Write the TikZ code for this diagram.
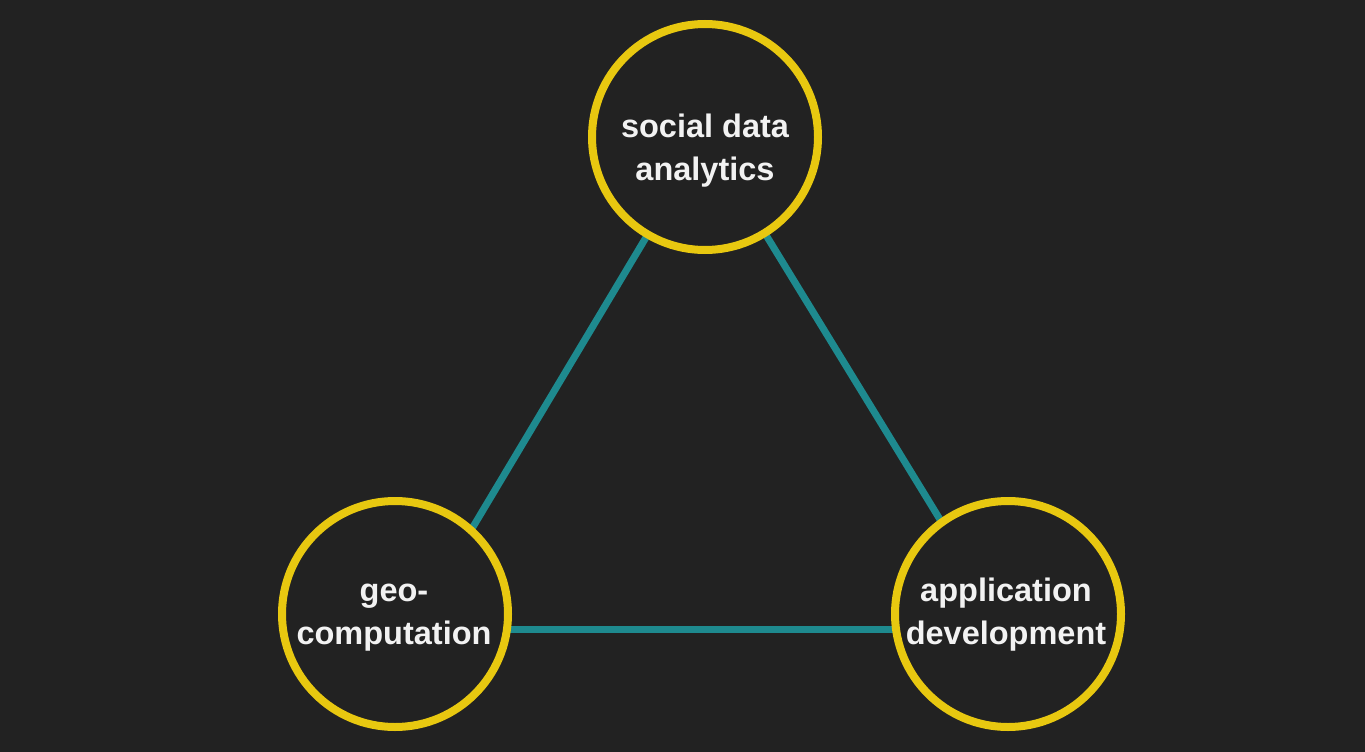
\documentclass[tikz,border=0pt]{standalone}
\usepackage{fontspec}
\setmainfont{Liberation Sans}
\definecolor{bgc}{RGB}{34,34,34}
\definecolor{ring}{RGB}{232,200,16}
\definecolor{link}{RGB}{30,138,143}
\definecolor{txt}{RGB}{242,242,242}
\begin{document}
\begin{tikzpicture}[x=1pt,y=-1pt,
  ringnode/.style={circle,draw=ring,line width=8pt,fill=bgc,minimum size=226pt,inner sep=0pt},
  linkline/.style={draw=link,line width=7pt},
  labeltext/.style={text=txt,font=\fontsize{32.5}{42.5}\selectfont\bfseries,align=center,inner sep=0pt}]
\fill[bgc] (0,0) rectangle (1365,752);
\useasboundingbox (0,0) rectangle (1365,752);
\coordinate (pa) at (706,137);
\coordinate (pb) at (412,629);
\coordinate (pc) at (1007,629);
\draw[linkline] (pa) -- (pb);
\draw[linkline] (pa) -- (pc);
\draw[linkline] (pb) -- (pc);
\node[ringnode] (top) at (705,137) {};
\node[ringnode] (left) at (395,614) {};
\node[ringnode] (right) at (1008,614) {};
\node[labeltext] (ttop) at (705,150.5) {social data\\analytics};
\node[labeltext] (tleft) at (394,617.5) {geo-\\computation};
\node[labeltext] (tright) at (1006,614.5) {application\\development};
\end{tikzpicture}
\end{document}
